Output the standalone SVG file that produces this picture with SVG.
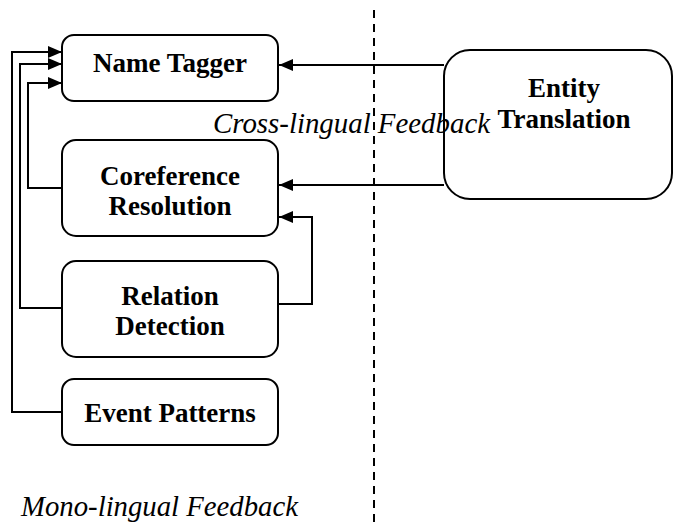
<svg xmlns="http://www.w3.org/2000/svg" width="676" height="523" viewBox="0 0 676 523">
<defs>
<marker id="ah" viewBox="0 0 14 12" refX="14" refY="6" markerWidth="14" markerHeight="12" markerUnits="userSpaceOnUse" orient="auto">
<path d="M0,0 L14,6 L0,12 Z" fill="#000"/>
</marker>
<style>
.box{fill:#fff;stroke:#000;stroke-width:2}
.lbl{font-family:"Liberation Serif","Times New Roman",serif;font-weight:bold;font-size:27px;text-anchor:middle;fill:#000}
.it{font-family:"Liberation Serif","Times New Roman",serif;font-style:italic;font-size:29px;fill:#000}
.con{fill:none;stroke:#000;stroke-width:2}
</style>
</defs>
<rect width="676" height="523" fill="#fff"/>
<line x1="374" y1="10" x2="374" y2="523" stroke="#000" stroke-width="2" stroke-dasharray="8,6"/>
<g id="name-tagger"><rect class="box" x="62" y="35" width="216" height="66" rx="12"/><text class="lbl" x="170" y="72" textLength="154" lengthAdjust="spacingAndGlyphs">Name Tagger</text></g>
<g id="coreference"><rect class="box" x="62" y="140" width="216" height="96" rx="14"/><text class="lbl" x="170" y="185">Coreference</text><text class="lbl" x="170" y="215">Resolution</text></g>
<g id="relation"><rect class="box" x="62" y="261" width="216" height="96" rx="14"/><text class="lbl" x="170" y="305">Relation</text><text class="lbl" x="170" y="335">Detection</text></g>
<g id="event"><rect class="box" x="62" y="379" width="216" height="66" rx="12"/><text class="lbl" x="170" y="422">Event Patterns</text></g>
<g id="entity"><rect class="box" x="444" y="50" width="228" height="149" rx="26"/><text class="lbl" x="564" y="97">Entity</text><text class="lbl" x="564" y="128">Translation</text></g>
<text class="it" x="213" y="133" textLength="277" lengthAdjust="spacingAndGlyphs">Cross-lingual Feedback</text>
<text class="it" x="21" y="516" textLength="277" lengthAdjust="spacingAndGlyphs">Mono-lingual Feedback</text>
<g id="connectors">
<line class="con" x1="444" y1="65" x2="279" y2="65" marker-end="url(#ah)"/>
<line class="con" x1="444" y1="185" x2="279" y2="185" marker-end="url(#ah)"/>
<polyline class="con" points="278,304 312,304 312,217 279,217" marker-end="url(#ah)"/>
<polyline class="con" points="62,188 28,188 28,83 62,83" marker-end="url(#ah)"/>
<polyline class="con" points="62,308 20,308 20,64 62,64" marker-end="url(#ah)"/>
<polyline class="con" points="62,412 12,412 12,52 62,52" marker-end="url(#ah)"/>
</g>
</svg>
